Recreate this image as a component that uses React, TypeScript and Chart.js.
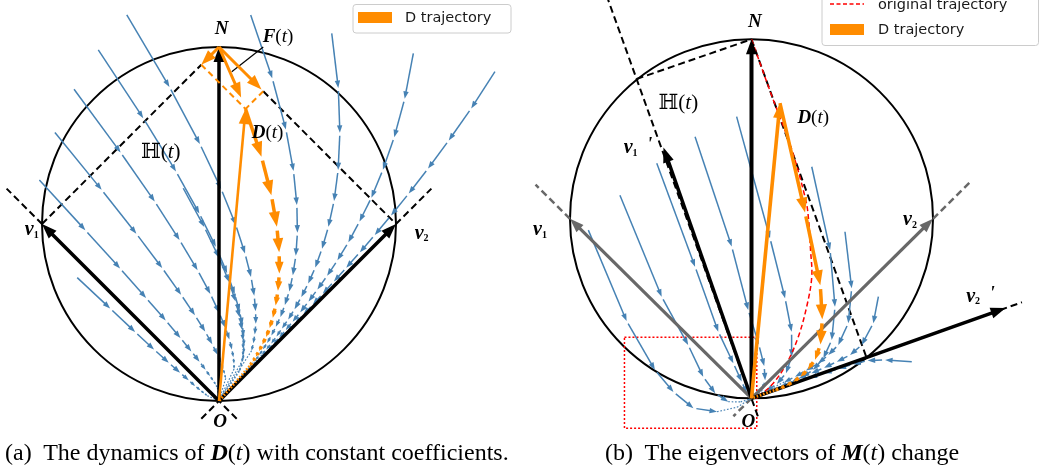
import { useEffect, useRef } from "react";
import { Chart, registerables } from "chart.js";

Chart.register(...registerables);

type P = [number, number];

// ---------------- colours / fonts ----------------
const BLUE = "#4682b4";
const ORANGE = "#ff8c00";
const GRAY = "#686868";
const RED = "#ff0000";
const SERIF = '"Liberation Serif", "DejaVu Serif", serif';
const SANS = '"DejaVu Sans", sans-serif';

// ================= Panel (a): constant coefficients =================
// unit circle through O=(0,0) and N=(0,2)
const A_CIRCLE = [0, 1, 1];
const A_O: P = [0, 0];
const A_N: P = [0, 2];
const A_V1: P = [-1, 1];
const A_V2: P = [1, 1];
const A_D: P = [0.15, 1.65];
const A_F_LEFT: P = [-0.1, 1.9];
const A_F_RIGHT: P = [0.24, 1.76];
const A_F_TIP: P = [0.125, 1.715];
const A_F_LEADER: P[] = [[0.072, 1.86], [0.25, 2.0]];
const A_PARA_L: P[] = [[-0.1, 1.9], [0.15, 1.65]];
const A_PARA_R: P[] = [[0.25, 1.75], [0.15, 1.65]];
const A_H_LEFT: P[] = [[-1, 1], [-0.1, 1.9]];
const A_H_RIGHT: P[] = [[0.25, 1.75], [1, 1]];
const A_AXIS_V1: P[] = [[0.1, -0.1], [-1.2, 1.2]];
const A_AXIS_V2: P[] = [[-0.1, -0.1], [1.2, 1.2]];

// flow lines, read as coefficients (a on v1, b on v2) of each arrow tip
const A_FLOW_1: P[] = [[1.351,0.830],[1.027,0.747],[0.780,0.672],[0.593,0.605],[0.451,0.545],[0.343,0.490],[0.260,0.441],[0.198,0.397],[0.150,0.357],[0.114,0.322],[0.087,0.289],[0.066,0.260],[0.050,0.234],[0,0]];
const A_FLOW_2: P[] = [[1.333,0.651],[1.013,0.585],[0.770,0.527],[0.585,0.474],[0.445,0.427],[0.338,0.384],[0.257,0.346],[0.195,0.311],[0.148,0.280],[0.113,0.252],[0.086,0.227],[0.065,0.204],[0.049,0.184],[0,0]];
const A_FLOW_3: P[] = [[1.290,0.471],[0.980,0.424],[0.745,0.382],[0.566,0.343],[0.430,0.309],[0.327,0.278],[0.249,0.250],[0.189,0.225],[0.144,0.203],[0.109,0.182],[0.083,0.164],[0.063,0.148],[0.048,0.133],[0,0]];
const A_FLOW_4: P[] = [[1.222,0.295],[0.928,0.265],[0.706,0.239],[0.536,0.215],[0.407,0.193],[0.310,0.174],[0.235,0.157],[0.179,0.141],[0.136,0.127],[0.103,0.114],[0.079,0.103],[0.060,0.092],[0.045,0.083],[0,0]];
const A_FLOW_5: P[] = [[1.132,0.117],[0.860,0.105],[0.654,0.095],[0.497,0.085],[0.378,0.077],[0.287,0.069],[0.218,0.062],[0.166,0.056],[0.126,0.050],[0.096,0.045],[0.073,0.041],[0.055,0.037],[0.042,0.033],[0,0]];
const A_FLOW_6: P[] = [[0.749,-0.052],[0.569,-0.046],[0.432,-0.042],[0.329,-0.038],[0.250,-0.034],[0.190,-0.030],[0.144,-0.027],[0.110,-0.025],[0.083,-0.022],[0.063,-0.020],[0.048,-0.018],[0,0]];
const A_FLOW_7: P[] = [[0.702,0.500],[0.533,0.450],[0.405,0.405],[0.308,0.365],[0.234,0.328],[0.178,0.295],[0.135,0.266],[0.103,0.239],[0.078,0.215],[0.059,0.194],[0.045,0.174],[0.034,0.157],[0.026,0.141],[0,0]];
const A_FLOW_8: P[] = [[1.001,1.180],[0.761,1.062],[0.578,0.956],[0.439,0.860],[0.334,0.774],[0.254,0.697],[0.193,0.627],[0.147,0.564],[0.111,0.508],[0.085,0.457],[0.064,0.411],[0.049,0.370],[0.037,0.333],[0.028,0.300],[0.022,0.270],[0.016,0.243],[0.012,0.219],[0,0]];
const A_FLOW_9: P[] = [[0.720,1.357],[0.547,1.221],[0.416,1.099],[0.316,0.989],[0.240,0.890],[0.183,0.801],[0.139,0.721],[0.105,0.649],[0.080,0.584],[0.061,0.526],[0.046,0.473],[0.035,0.426],[0.027,0.383],[0.020,0.345],[0.015,0.310],[0.012,0.279],[0.009,0.251],[0,0]];
const A_FLOW_10: P[] = [[0.433,1.531],[0.329,1.378],[0.250,1.240],[0.190,1.116],[0.144,1.005],[0.110,0.904],[0.083,0.814],[0.063,0.732],[0.048,0.659],[0.037,0.593],[0.028,0.534],[0.021,0.480],[0.016,0.432],[0.012,0.389],[0.009,0.350],[0.007,0.315],[0.005,0.284],[0,0]];
const A_FLOW_11: P[] = [[0.151,1.710],[0.114,1.539],[0.087,1.385],[0.066,1.247],[0.050,1.122],[0.038,1.010],[0.029,0.909],[0.022,0.818],[0.017,0.736],[0.013,0.662],[0.010,0.596],[0.007,0.537],[0.006,0.483],[0.004,0.435],[0.003,0.391],[0.002,0.352],[0.002,0.317],[0,0]];
const A_D_TRAJ: P[] = [[0.750,0.900],[0.570,0.810],[0.433,0.729],[0.329,0.656],[0.250,0.590],[0.190,0.531],[0.145,0.478],[0.110,0.430],[0.083,0.387],[0.063,0.349],[0.048,0.314],[0.037,0.282],[0.028,0.254],[0.021,0.229],[0.016,0.206],[0.012,0.185],[0,0]];

// ================= Panel (b): eigenvectors change =================
const B_CIRCLE = [0, 1, 1];
const B_O: P = [0, 0];
const B_N: P = [0, 2];
const B_V1: P = [-1, 1];
const B_V2: P = [1, 1];
const B_V1P: P = [-0.485, 1.397];
const B_V2P: P = [1.40, 0.503];
const B_D: P = [0.157, 1.645];
const B_H_LEFT: P[] = [[-0.633, 1.779], [0, 2]];
const B_H_RIGHT: P[] = [[0, 2], [0.635, 0.223]];
const B_AXIS_V1P: P[] = [[0.035, -0.1], [-0.79, 2.22]];
const B_AXIS_V2P: P[] = [[0, 0], [1.49, 0.535]];
const B_GRAY_EXT_1: P[] = [[-1, 1], [-1.19, 1.19]];
const B_GRAY_EXT_2: P[] = [[1, 1], [1.2, 1.2]];
const B_GRAY_EXT_3: P[] = [[0, 0], [-0.1, -0.1]];
const B_ZOOM_BOX: P[] = [[-0.70, 0.34], [0.029, 0.34], [0.029, -0.167], [-0.70, -0.167], [-0.70, 0.34]];
const B_ORIGINAL: P[] = [[0,2],[0.11,1.69],[0.22,1.39],[0.30,1.1],[0.315,0.99],[0.325,0.83],[0.332,0.677],[0.304,0.51],[0.258,0.343],[0.194,0.195],[0.12,0.084],[0.05,0.022],[0,0]];
const B_D_TRAJ: P[] = [[0.157,1.645],[0.295,1.035],[0.379,0.63],[0.39,0.44],[0.38,0.3],[0.35,0.215],[0.31,0.16],[0.27,0.12],[0.23,0.092],[0.19,0.07],[0.155,0.055],[0.125,0.044],[0,0]];
const B_FLOW_1: P[] = [[-0.899,0.937],[-0.688,0.43],[-0.532,0.158],[-0.43,0.035],[-0.32,-0.055],[-0.19,-0.075],[-0.08,-0.05],[0,0]];
const B_FLOW_2: P[] = [[-0.725,1.131],[-0.495,0.566],[-0.349,0.297],[-0.266,0.12],[-0.2,0.028],[-0.128,-0.019],[-0.06,-0.02],[0,0]];
const B_FLOW_3: P[] = [[-0.522,1.309],[-0.311,0.733],[-0.183,0.371],[-0.1,0.195],[-0.054,0.093],[-0.026,0.028],[0,0]];
const B_FLOW_4: P[] = [[-0.311,1.457],[-0.109,0.845],[-0.018,0.492],[0.04,0.3],[0.07,0.18],[0.075,0.1],[0.06,0.045],[0,0]];
const B_FLOW_5: P[] = [[-0.082,1.569],[0.102,0.891],[0.185,0.557],[0.221,0.371],[0.221,0.232],[0.19,0.14],[0.14,0.08],[0.08,0.04],[0,0]];
const B_FLOW_6: P[] = [[0.332,1.29],[0.433,0.826],[0.46,0.51],[0.442,0.325],[0.396,0.223],[0.34,0.158],[0.28,0.12],[0.22,0.09],[0.16,0.065],[0,0]];
const B_FLOW_7: P[] = [[0.515,0.928],[0.552,0.613],[0.533,0.418],[0.478,0.297],[0.423,0.241],[0.368,0.195],[0.3,0.155],[0.24,0.12],[0.18,0.09],[0,0]];
const B_FLOW_8: P[] = [[0.699,0.566],[0.671,0.418],[0.607,0.297],[0.543,0.241],[0.47,0.204],[0.4,0.17],[0.33,0.14],[0.26,0.11],[0,0]];
const B_FLOW_9: P[] = [[0.883,0.204],[0.736,0.214],[0.64,0.21],[0.56,0.19],[0.48,0.165],[0.4,0.14],[0.32,0.115],[0,0]];
const B_FLOW_DOT_FROM = [5, 5, 5, 6, 7, 8, 8, 7, 6];

// legend text
const LEGEND_D = "D trajectory";
const LEGEND_ORIG = "original trajectory";

// ---------------- helpers ----------------
const pts = (arr: P[]) => arr.map(([x, y]) => ({ x, y }));
const fromBasis = (arr: P[], v1: P, v2: P) =>
  arr.map(([a, b]) => ({ x: a * v1[0] + b * v2[0], y: a * v1[1] + b * v2[1] }));

const hidden = { showLine: false, pointRadius: 0, pointHoverRadius: 0 };

const flowDs = (data: any[], o: any) => ({ data, kind: "flow", ...hidden, ...o });
const arrowDs = (from: P, to: P, o: any) => ({ data: pts([from, to]), kind: "arrow", ...hidden, ...o });
const lineDs = (arr: P[], color: string, width: number, dash: number[] = [], tension = 0) => ({
  data: pts(arr), showLine: true, borderColor: color, borderWidth: width, borderDash: dash,
  pointRadius: 0, pointHoverRadius: 0, tension, fill: false, borderCapStyle: "butt",
});

const BLUE_FLOW = { color: BLUE, lw: 1.5, headLen: 7.5, headRatio: 0.72, gap: 3 };
const ORANGE_FLOW = { color: ORANGE, lw: 3.5, headLen: 15, headRatio: 0.75, gap: 4 };

function head(ctx: CanvasRenderingContext2D, tx: number, ty: number, ux: number, uy: number, len: number, wid: number, color: string) {
  const bx = tx - ux * len, by = ty - uy * len;
  const px = -uy, py = ux;
  ctx.beginPath();
  ctx.moveTo(tx, ty);
  ctx.lineTo(bx + (px * wid) / 2, by + (py * wid) / 2);
  ctx.lineTo(bx - (px * wid) / 2, by - (py * wid) / 2);
  ctx.closePath();
  ctx.fillStyle = color;
  ctx.fill();
}

function drawFlow(ctx: CanvasRenderingContext2D, p: { x: number; y: number }[], ds: any) {
  const n = p.length;
  const dotFrom = ds.dotFrom ?? n - 2;
  ctx.save();
  ctx.lineCap = "butt";
  for (let i = 0; i < n - 1; i++) {
    const a = p[i], b = p[i + 1];
    const dx = b.x - a.x, dy = b.y - a.y;
    const L = Math.hypot(dx, dy);
    if (L < 0.5) continue;
    const ux = dx / L, uy = dy / L;
    ctx.strokeStyle = ds.color;
    if (i >= dotFrom) {
      ctx.setLineDash([1.6, 1.8]);
      ctx.lineWidth = ds.lw * 0.8;
      ctx.beginPath();
      ctx.moveTo(a.x, a.y);
      ctx.lineTo(b.x, b.y);
      ctx.stroke();
      ctx.setLineDash([]);
      continue;
    }
    const gap = i === 0 ? 0 : Math.min(ds.gap, L * 0.25);
    const hl = Math.min(ds.headLen, L * 0.55);
    const hw = hl * ds.headRatio;
    const sx = a.x + ux * gap, sy = a.y + uy * gap;
    const ex = b.x - ux * hl * 0.6, ey = b.y - uy * hl * 0.6;
    if ((ex - sx) * ux + (ey - sy) * uy > 0) {
      ctx.lineWidth = ds.lw;
      ctx.beginPath();
      ctx.moveTo(sx, sy);
      ctx.lineTo(ex, ey);
      ctx.stroke();
    }
    head(ctx, b.x, b.y, ux, uy, hl, hw, ds.color);
  }
  ctx.restore();
}

function drawArrow(ctx: CanvasRenderingContext2D, p: { x: number; y: number }[], ds: any) {
  const a = p[0], b = p[1];
  const dx = b.x - a.x, dy = b.y - a.y;
  const L = Math.hypot(dx, dy);
  if (L < 0.5) return;
  const ux = dx / L, uy = dy / L;
  const hl = Math.min(ds.headLen, L * 0.8);
  ctx.save();
  ctx.lineCap = "butt";
  ctx.strokeStyle = ds.color;
  ctx.lineWidth = ds.lw;
  ctx.beginPath();
  ctx.moveTo(a.x, a.y);
  ctx.lineTo(b.x - ux * hl * 0.7, b.y - uy * hl * 0.7);
  ctx.stroke();
  head(ctx, b.x, b.y, ux, uy, hl, ds.headWid, ds.color);
  ctx.restore();
}

type Run = { t: string; f: string; dy?: number; c?: string };
type Label = { at: P; runs: Run[] };

const FB = (s: number) => `italic bold ${s}px ${SERIF}`;
const FR = (s: number) => `${s}px ${SERIF}`;
const FI = (s: number) => `italic ${s}px ${SERIF}`;
const FH = (s: number) => `${s}px "DejaVu Serif", "DejaVu Sans", serif`;
const SUB = `bold 10px ${SERIF}`;

const mathFn = (sym: string, size: number, bold = true): Run[] => [
  { t: sym, f: bold ? FB(size) : FH(size) },
  { t: "(", f: FR(size) },
  { t: "t", f: FI(size) },
  { t: ")", f: FR(size) },
];
const vecLabel = (sub: string, prime = false): Run[] => {
  const r: Run[] = [{ t: "v", f: FB(20) }, { t: sub, f: SUB, dy: 5 }];
  if (prime) r.push({ t: "  '", f: FB(19), dy: -3 });
  return r;
};

type Legend = {
  box: number[];
  items: { kind: "patch" | "dash"; color: string; y: number; label: string }[];
  swatchX: number[];
  textX: number;
};

function makeDiagram(cfg: { circle: number[]; labels: Label[]; legend: Legend }) {
  return {
    id: "diagram",
    beforeDatasetsDraw(chart: any) {
      const { ctx, scales } = chart;
      const xs = scales.x, ys = scales.y;
      const [c0, c1, r] = cfg.circle;
      const cx = xs.getPixelForValue(c0), cy = ys.getPixelForValue(c1);
      const rx = Math.abs(xs.getPixelForValue(c0 + r) - cx);
      const ry = Math.abs(ys.getPixelForValue(c1 + r) - cy);
      ctx.save();
      ctx.beginPath();
      ctx.ellipse(cx, cy, rx, ry, 0, 0, Math.PI * 2);
      ctx.lineWidth = 2;
      ctx.strokeStyle = "#000";
      ctx.stroke();
      ctx.restore();
    },
    afterDatasetDraw(chart: any, args: any) {
      const ds = chart.data.datasets[args.index];
      const p = args.meta.data.map((e: any) => ({ x: e.x, y: e.y }));
      if (ds.kind === "flow") drawFlow(chart.ctx, p, ds);
      else if (ds.kind === "arrow") drawArrow(chart.ctx, p, ds);
    },
    afterDraw(chart: any) {
      const { ctx, scales } = chart;
      ctx.save();
      ctx.textBaseline = "middle";
      ctx.fillStyle = "#000";
      for (const lb of cfg.labels) {
        const px = scales.x.getPixelForValue(lb.at[0]);
        const py = scales.y.getPixelForValue(lb.at[1]);
        const widths = lb.runs.map((r) => {
          ctx.font = r.f;
          return ctx.measureText(r.t).width;
        });
        let cur = px - widths.reduce((s, w) => s + w, 0) / 2;
        lb.runs.forEach((r, i) => {
          ctx.font = r.f;
          ctx.fillStyle = r.c || "#000";
          ctx.fillText(r.t, cur, py + (r.dy || 0));
          cur += widths[i];
        });
      }
      // legend
      const lg = cfg.legend;
      const [x0, y0, x1, y1] = lg.box;
      ctx.beginPath();
      ctx.roundRect(x0 + 0.5, y0 + 0.5, x1 - x0, y1 - y0, 3);
      ctx.fillStyle = "rgba(255,255,255,0.85)";
      ctx.fill();
      ctx.strokeStyle = "#cccccc";
      ctx.lineWidth = 1;
      ctx.stroke();
      ctx.font = `14.5px ${SANS}`;
      for (const it of lg.items) {
        if (it.kind === "patch") {
          ctx.fillStyle = it.color;
          ctx.fillRect(lg.swatchX[0], it.y - 5.5, lg.swatchX[1] - lg.swatchX[0], 11);
        } else {
          ctx.strokeStyle = it.color;
          ctx.lineWidth = 1.5;
          ctx.setLineDash([4, 2.5]);
          ctx.beginPath();
          ctx.moveTo(lg.swatchX[0], it.y);
          ctx.lineTo(lg.swatchX[1], it.y);
          ctx.stroke();
          ctx.setLineDash([]);
        }
        ctx.fillStyle = "#1a1a1a";
        ctx.fillText(it.label, lg.textX, it.y + 1);
      }
      ctx.restore();
    },
  };
}

function baseOptions(xr: number[], yr: number[]) {
  return {
    responsive: false,
    maintainAspectRatio: false,
    animation: false as const,
    events: [],
    layout: { padding: 0 },
    plugins: { legend: { display: false }, tooltip: { enabled: false } },
    scales: {
      x: { type: "linear" as const, min: xr[0], max: xr[1], display: false },
      y: { type: "linear" as const, min: yr[0], max: yr[1], display: false },
    },
  };
}

function buildA(): any {
  const flows = [A_FLOW_1, A_FLOW_2, A_FLOW_3, A_FLOW_4, A_FLOW_5, A_FLOW_6, A_FLOW_7, A_FLOW_8, A_FLOW_9, A_FLOW_10, A_FLOW_11];
  const blackArrow = { color: "#000", lw: 3.5, headLen: 15, headWid: 11 };
  const orangeArrow = { color: ORANGE, lw: 3, headLen: 15, headWid: 11 };
  const datasets = [
    arrowDs(A_O, A_D, { ...orangeArrow, lw: 2.6 }),
    arrowDs(A_N, A_F_RIGHT, orangeArrow),
    arrowDs(A_N, A_F_TIP, orangeArrow),
    arrowDs(A_N, A_F_LEFT, orangeArrow),
    flowDs(fromBasis(A_D_TRAJ, A_V1, A_V2), { ...ORANGE_FLOW, dotFrom: A_D_TRAJ.length - 2 }),
    lineDs(A_PARA_L, ORANGE, 2, [6, 4]),
    lineDs(A_PARA_R, ORANGE, 2, [6, 4]),
    lineDs(A_F_LEADER, "#000", 1.2),
    arrowDs(A_O, A_N, blackArrow),
    arrowDs(A_O, A_V1, blackArrow),
    arrowDs(A_O, A_V2, blackArrow),
    ...flows.map((f) => flowDs(fromBasis(f, A_V1, A_V2), { ...BLUE_FLOW, dotFrom: f.length - 2 })),
    lineDs(A_H_LEFT, "#000", 2, [7, 4]),
    lineDs(A_H_RIGHT, "#000", 2, [7, 4]),
    lineDs(A_AXIS_V1, "#000", 2, [7, 4]),
    lineDs(A_AXIS_V2, "#000", 2, [7, 4]),
  ];
  const labels: Label[] = [
    { at: [0.015, 2.1], runs: [{ t: "N", f: FB(19) }] },
    { at: [0.006, -0.117], runs: [{ t: "O", f: FB(19) }] },
    { at: [-1.058, 0.966], runs: vecLabel("1") },
    { at: [1.145, 0.947], runs: vecLabel("2") },
    { at: [-0.329, 1.404], runs: mathFn("\u210D", 21, false) },
    { at: [0.274, 1.512], runs: mathFn("D", 19) },
    { at: [0.333, 2.058], runs: mathFn("F", 19) },
  ];
  const legend: Legend = {
    box: [352.5, 4, 510.5, 32.5],
    items: [{ kind: "patch", color: ORANGE, y: 17.5, label: LEGEND_D }],
    swatchX: [358, 392],
    textX: 405,
  };
  return {
    type: "scatter",
    data: { datasets },
    options: baseOptions([-1.2373, 1.7006], [-0.2203, 2.2655]),
    plugins: [makeDiagram({ circle: A_CIRCLE, labels, legend })],
  };
}

function buildB(): any {
  const flows = [B_FLOW_1, B_FLOW_2, B_FLOW_3, B_FLOW_4, B_FLOW_5, B_FLOW_6, B_FLOW_7, B_FLOW_8, B_FLOW_9];
  const blackArrow = { color: "#000", lw: 3.5, headLen: 15, headWid: 11 };
  const grayArrow = { color: GRAY, lw: 3.2, headLen: 14, headWid: 10 };
  const datasets = [
    arrowDs(B_O, B_D, { color: ORANGE, lw: 3.6, headLen: 15, headWid: 11 }),
    flowDs(pts(B_D_TRAJ), { ...ORANGE_FLOW, dotFrom: B_D_TRAJ.length - 2 }),
    arrowDs(B_O, B_N, { ...blackArrow, lw: 4 }),
    arrowDs(B_O, B_V1P, blackArrow),
    arrowDs(B_O, B_V2P, blackArrow),
    arrowDs(B_O, B_V1, grayArrow),
    arrowDs(B_O, B_V2, grayArrow),
    lineDs(B_ORIGINAL, RED, 1.5, [5, 3], 0.35),
    ...flows.map((f, i) => flowDs(pts(f), { ...BLUE_FLOW, dotFrom: B_FLOW_DOT_FROM[i] })),
    lineDs(B_H_LEFT, "#000", 2, [7, 4]),
    lineDs(B_H_RIGHT, "#000", 2, [7, 4]),
    lineDs(B_AXIS_V1P, "#000", 2, [7, 4]),
    lineDs(B_AXIS_V2P, "#000", 2, [7, 4]),
    lineDs(B_GRAY_EXT_1, GRAY, 2.5, [7, 4]),
    lineDs(B_GRAY_EXT_2, GRAY, 2.5, [7, 4]),
    lineDs(B_GRAY_EXT_3, GRAY, 2.5, [7, 4]),
    lineDs(B_ZOOM_BOX, RED, 1.5, [2, 2]),
  ];
  const labels: Label[] = [
    { at: [0.019, 2.098], runs: [{ t: "N", f: FB(19) }] },
    { at: [-0.018, -0.13], runs: [{ t: "O", f: FB(19) }] },
    { at: [-1.165, 0.937], runs: vecLabel("1") },
    { at: [0.873, 0.993], runs: vecLabel("2") },
    { at: [-0.625, 1.394], runs: vecLabel("1", true) },
    { at: [1.262, 0.566], runs: vecLabel("2", true) },
    { at: [-0.403, 1.643], runs: mathFn("\u210D", 21, false) },
    { at: [0.34, 1.56], runs: mathFn("D", 19) },
  ];
  const legend: Legend = {
    box: [301.5, -22, 518, 45],
    items: [
      { kind: "dash", color: RED, y: 4, label: LEGEND_ORIG },
      { kind: "patch", color: ORANGE, y: 29.5, label: LEGEND_D },
    ],
    swatchX: [310, 344],
    textX: 358,
  };
  return {
    type: "scatter",
    data: { datasets },
    options: baseOptions([-1.2755, 1.584], [-0.2323, 2.2189]),
    plugins: [makeDiagram({ circle: B_CIRCLE, labels, legend })],
  };
}

const captionStyle = (left: number): any => ({
  position: "absolute",
  left,
  top: 438,
  font: `24px ${SERIF}`,
  lineHeight: "28px",
  whiteSpace: "nowrap",
  color: "#000",
});

export default function App() {
  const refA = useRef<HTMLCanvasElement>(null);
  const refB = useRef<HTMLCanvasElement>(null);
  useEffect(() => {
    const ca = new Chart(refA.current as HTMLCanvasElement, buildA());
    const cb = new Chart(refB.current as HTMLCanvasElement, buildB());
    return () => {
      ca.destroy();
      cb.destroy();
    };
  }, []);
  return (
    <div style={{ position: "fixed", left: 0, top: 0, width: 1039, height: 476, background: "#fff", overflow: "hidden" }}>
      <canvas ref={refA} width={520} height={440} style={{ position: "absolute", left: 0, top: 0, display: "block" }} />
      <canvas ref={refB} width={519} height={440} style={{ position: "absolute", left: 520, top: 0, display: "block" }} />
      <div style={captionStyle(5)}>
        (a)&nbsp; The dynamics of <b><i>D</i></b>(<i>t</i>) with constant coefficients.
      </div>
      <div style={captionStyle(605)}>
        (b)&nbsp; The eigenvectors of <b><i>M</i></b>(<i>t</i>) change
      </div>
    </div>
  );
}
